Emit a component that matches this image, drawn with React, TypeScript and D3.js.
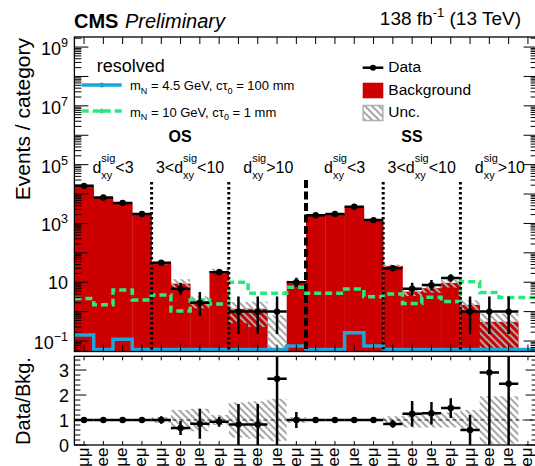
import React from "react";
import * as d3 from "d3";

// ---------------- data ----------------
const groups = ["OS", "SS"];
const regions = ["d<3", "3<d<10", "d>10"];
const channels = ["μμμ", "eee", "μμe", "eeμ"];
const binLabels: string[] = [];
for (let g = 0; g < 2; g++) for (let r = 0; r < 3; r++) for (const c of channels) binLabels.push(c);

const dataCounts = [19000, 7600, 5000, 2100, 46, 6, 2, 22, 1, 1, 1, 10, 1900, 2100, 3700, 1300, 30, 6, 8, 14, 1, 1, 1, 0];
const background = [19000, 7600, 5000, 2100, 46, 9, 2.3, 24, 1.25, 1.25, 0, 10, 1900, 2100, 3700, 1300, 36, 4.8, 6.3, 9.5, 1.7, 0.45, 0.45, 0];
const uncUp = [19600, 7850, 5150, 2170, 51, 12.6, 3.3, 28.8, 2.1, 2.2, 0.75, 11.2, 1960, 2170, 3800, 1340, 40, 6.2, 8.2, 12.4, 2.4, 0.87, 0.87, 0];
const uncDn = [18400, 7350, 4850, 2030, 41, 5.4, 1.3, 19.2, 0.4, 0.3, 0.01, 8.8, 1840, 2030, 3600, 1260, 32, 3.4, 4.4, 6.6, 1.0, 0.02, 0.02, 0];
const ratioVals = [1, 1, 1, 1, 1.0, 0.68, 0.85, 0.93, 0.82, 0.82, 2.65, 1.0, 1, 1, 1, 1, 0.84, 1.25, 1.27, 1.48, 0.6, 2.9, 2.45, NaN];
const ratioBand = [0.02, 0.02, 0.02, 0.03, 0.12, 0.4, 0.45, 0.2, 0.7, 0.75, 0.85, 0.12, 0.02, 0.02, 0.02, 0.03, 0.15, 0.3, 0.3, 0.3, 0.4, 0.95, 0.95, 0];
const sigBlue = [0.16, 0, 0.115, 0, 0, 0, 0, 0, 0, 0, 0, 0.068, 0, 0, 0.19, 0.068, 0, 0, 0, 0, 0, 0, 0, 0];
const sigGreen = [2.8, 1.7, 5.4, 2.5, 3.7, 1.05, 2.5, 1.8, 10, 4.2, 4.2, 6.7, 4.2, 4.2, 5.9, 3.2, 4.0, 1.9, 3.1, 2.2, 10.4, 4.5, 3.0, 3.0];
const yTickExps = [-1, 1, 3, 5, 7, 9];
const ratioTicks = [0, 1, 2, 3];

// ---------------- helpers ----------------
const FF = "'Liberation Sans', Arial, Helvetica, sans-serif";
const RED = "#cc0000";
const BLUE = "#1aa6dc";
const GREEN = "#2ee67f";

function poisCdf(n: number, mu: number) {
  let term = Math.exp(-mu);
  let sum = term;
  for (let k = 1; k <= n; k++) {
    term *= mu / k;
    sum += term;
  }
  return sum;
}
function garwood(n: number): [number, number] {
  if (n > 100) return [n - Math.sqrt(n), n + Math.sqrt(n)];
  const a = 0.158655;
  let lo = n, hi = n + 10 * Math.sqrt(n + 1) + 10;
  for (let i = 0; i < 80; i++) {
    const m = (lo + hi) / 2;
    if (poisCdf(n, m) > a) lo = m; else hi = m;
  }
  const U = (lo + hi) / 2;
  let L = 0;
  if (n > 0) {
    lo = 0; hi = n;
    for (let i = 0; i < 80; i++) {
      const m = (lo + hi) / 2;
      if (poisCdf(n - 1, m) > 1 - a) lo = m; else hi = m;
    }
    L = (lo + hi) / 2;
  }
  return [L, U];
}

export default function App() {
  const X0 = 74.4, X1 = 537.6;
  const MT = 37, MB = 351.5;
  const RT = 356.3, RB = 445;
  const nb = binLabels.length;
  const x = d3.scaleLinear().domain([0, nb]).range([X0, X1]);
  const y = d3.scaleLog().domain([0.044, 2.2e9]).range([MB, MT]);
  const yr = d3.scaleLinear().domain([0, 3.55]).range([RB, RT]);
  const bw = x(1) - x(0);
  const ymin = y.domain()[0];

  const stepPath = (vals: number[], floorY: number) => {
    let p = "";
    vals.forEach((v, i) => {
      const yy = v > 0 ? y(v) : floorY;
      p += (i === 0 ? `M${x(0)},${yy}` : `V${yy}`) + `H${x(i + 1)}`;
    });
    return p;
  };

  // ticks
  const mainTicks: JSX.Element[] = [];
  for (let e = -2; e <= 9; e++) {
    for (let m = 1; m <= 9; m++) {
      const v = m * Math.pow(10, e);
      if (v < ymin || v > y.domain()[1]) continue;
      const yy = y(v);
      const len = m === 1 ? 14 : 7;
      mainTicks.push(<line key={`l${e}${m}`} x1={X0} x2={X0 + len} y1={yy} y2={yy} stroke="#000" strokeWidth={1} />);
      mainTicks.push(<line key={`r${e}${m}`} x1={X1} x2={X1 - len} y1={yy} y2={yy} stroke="#000" strokeWidth={1} />);
    }
  }
  const ratioTickEls: JSX.Element[] = [];
  for (let k = 0; k <= 17; k++) {
    const v = k * 0.2;
    const yy = yr(v);
    const len = k % 5 === 0 ? 12 : 6;
    ratioTickEls.push(<line key={`rl${k}`} x1={X0} x2={X0 + len} y1={yy} y2={yy} stroke="#000" strokeWidth={1} />);
    ratioTickEls.push(<line key={`rr${k}`} x1={X1} x2={X1 - len} y1={yy} y2={yy} stroke="#000" strokeWidth={1} />);
  }

  const dLabel = (cx: number, pre: string, post: string, key: string) => {
    const fs = 16, fss = 11;
    const wPre = pre.length * 0.57 * fs;
    const wd = 0.556 * fs;
    const wsig = 1.278 * fss;
    const wPost = post.length * 0.57 * fs;
    const total = wPre + wd + wsig + wPost;
    const x0 = cx - total / 2;
    const by = 173;
    return (
      <g key={key} fontFamily={FF}>
        <text x={x0} y={by} fontSize={fs}>{pre + "d"}</text>
        <text x={x0 + wPre + wd} y={by - 11} fontSize={fss}>sig</text>
        <text x={x0 + wPre + wd} y={by + 6} fontSize={fss}>xy</text>
        <text x={x0 + wPre + wd + wsig} y={by} fontSize={fs}>{post}</text>
      </g>
    );
  };

  return (
    <svg width={535} height={466} style={{ position: "absolute", left: 0, top: 0, background: "#fff" }}>
      <defs>
        <pattern id="hatch" patternUnits="userSpaceOnUse" width={7} height={7}>
          <path d="M-1,-1 L8,8 M-4.5,2.5 L2.5,9.5 M2.5,-4.5 L9.5,2.5" stroke="#a8a8a8" strokeWidth={2} />
        </pattern>
        <clipPath id="mainClip"><rect x={X0} y={MT} width={X1 - X0} height={MB - MT} /></clipPath>
        <clipPath id="ratioClip"><rect x={X0} y={RT} width={X1 - X0} height={RB - RT} /></clipPath>
      </defs>
      <rect width={535} height={466} fill="#fff" />

      {/* main panel */}
      <g clipPath="url(#mainClip)">
        {background.map((v, i) => v > 0 ? (
          <rect key={`b${i}`} x={x(i)} y={y(v)} width={bw + 0.3} height={MB - y(v)} fill={RED} />
        ) : null)}
        {uncUp.map((v, i) => v > 0 ? (
          <rect key={`u${i}`} x={x(i)} y={y(v)} width={bw} height={Math.min(MB, y(Math.max(uncDn[i], ymin * 0.5))) - y(v)} fill="url(#hatch)" />
        ) : null)}
        <path d={stepPath(sigBlue, MB - 2)} fill="none" stroke={BLUE} strokeWidth={3.5} />
        <path d={stepPath(sigGreen, MB - 2)} fill="none" stroke={GREEN} strokeWidth={3.5} strokeDasharray="7,4" />
        {[4, 8, 16, 20].map(k => (
          <line key={`dv${k}`} x1={x(k)} x2={x(k)} y1={182} y2={MB} stroke="#000" strokeWidth={3} strokeDasharray="2.5,2.5" />
        ))}
        <line x1={x(12)} x2={x(12)} y1={180} y2={MB} stroke="#000" strokeWidth={4} strokeDasharray="8,3.5" />
        {dataCounts.map((n, i) => {
          if (n <= 0) return null;
          const [lo, hi] = garwood(n);
          const cx = x(i + 0.5);
          return (
            <g key={`d${i}`}>
              <line x1={cx} x2={cx} y1={y(hi)} y2={y(Math.max(lo, ymin * 0.5))} stroke="#000" strokeWidth={2.5} />
              <line x1={x(i)} x2={x(i + 1)} y1={y(n)} y2={y(n)} stroke="#000" strokeWidth={2.5} />
              <circle cx={cx} cy={y(n)} r={3.2} fill="#000" />
            </g>
          );
        })}
      </g>
      {mainTicks}
      {binLabels.map((_, i) => (
        <g key={`mt${i}`}>
          <line x1={x(i + 0.5)} x2={x(i + 0.5)} y1={MT} y2={MT + 7} stroke="#000" strokeWidth={1} />
          <line x1={x(i + 0.5)} x2={x(i + 0.5)} y1={MB} y2={MB - 7} stroke="#000" strokeWidth={1} />
        </g>
      ))}
      <rect x={X0} y={MT} width={X1 - X0} height={MB - MT} fill="none" stroke="#000" strokeWidth={1.3} />

      {/* y tick labels main */}
      {yTickExps.map(e => {
        const yy = y(Math.pow(10, e));
        if (e === 1) return <text key={`yl${e}`} x={68} y={yy + 6.5} fontSize={18} fontFamily={FF} textAnchor="end">10</text>;
        return (
          <text key={`yl${e}`} x={68} y={yy + 8} fontSize={18} fontFamily={FF} textAnchor="end">10<tspan dy={-8} fontSize={12.5}>{e < 0 ? "−" + Math.abs(e) : String(e)}</tspan></text>
        );
      })}
      <text transform="translate(30,38) rotate(-90)" textAnchor="end" fontSize={21} fontFamily={FF}>Events / category</text>

      {/* region labels */}
      <text x={180} y={141.7} fontSize={16} fontWeight="bold" fontFamily={FF} textAnchor="middle">{groups[0]}</text>
      <text x={412} y={141.7} fontSize={16} fontWeight="bold" fontFamily={FF} textAnchor="middle">{groups[1]}</text>
      {[0, 1].map(g => (
        <g key={`rg${g}`}>
          {dLabel(x(g * 12 + 2), "", "<3", `a${g}`)}
          {dLabel(x(g * 12 + 6), "3<", "<10", `b${g}`)}
          {dLabel(x(g * 12 + 10) + 1, "", ">10", `c${g}`)}
        </g>
      ))}

      {/* legend */}
      <text x={96.7} y={71.7} fontSize={18} fontFamily={FF}>resolved</text>
      <line x1={81.7} x2={121.7} y1={85} y2={85} stroke={BLUE} strokeWidth={3.5} />
      <circle cx={101.7} cy={85} r={2.5} fill={BLUE} />
      <text x={130} y={90} fontSize={13} fontFamily={FF}>m<tspan dy={3.5} fontSize={9}>N</tspan><tspan dy={-3.5}> = 4.5 GeV, cτ</tspan><tspan dy={3.5} fontSize={9}>0</tspan><tspan dy={-3.5}> = 100 mm</tspan></text>
      <line x1={81.7} x2={121.7} y1={111} y2={111} stroke={GREEN} strokeWidth={3.5} strokeDasharray="7,4" />
      <circle cx={101.7} cy={111} r={2.5} fill={GREEN} />
      <text x={130} y={116.7} fontSize={13} fontFamily={FF}>m<tspan dy={3.5} fontSize={9}>N</tspan><tspan dy={-3.5}> = 10 GeV, cτ</tspan><tspan dy={3.5} fontSize={9}>0</tspan><tspan dy={-3.5}> = 1 mm</tspan></text>

      <line x1={362.7} x2={383.3} y1={67.7} y2={67.7} stroke="#000" strokeWidth={2.5} />
      <circle cx={373} cy={67.7} r={3} fill="#000" />
      <text x={388.3} y={72.3} fontSize={15.5} fontFamily={FF}>Data</text>
      <rect x={362.7} y={82.7} width={20.6} height={15.6} fill={RED} />
      <text x={388.3} y={94.8} fontSize={15.5} fontFamily={FF}>Background</text>
      <rect x={363.2} y={105.5} width={19.6} height={15} fill="url(#hatch)" stroke="#b0b0b0" strokeWidth={1.5} />
      <text x={388.3} y={117.3} fontSize={15.5} fontFamily={FF}>Unc.</text>

      {/* header */}
      <text x={74} y={28} fontSize={20} fontWeight="bold" fontFamily={FF}>CMS</text>
      <text x={125} y={28} fontSize={20} fontStyle="italic" fontFamily={FF}>Preliminary</text>
      <text x={521} y={25} fontSize={19} fontFamily={FF} textAnchor="end">138 fb<tspan dy={-8} fontSize={13}>-1</tspan><tspan dy={8}> (13 TeV)</tspan></text>

      {/* ratio panel */}
      <g clipPath="url(#ratioClip)">
        {ratioBand.map((r, i) => r > 0 ? (
          <rect key={`rb${i}`} x={x(i)} y={yr(1 + r)} width={bw} height={yr(Math.max(1 - r, 0)) - yr(1 + r)} fill="url(#hatch)" />
        ) : null)}
        <line x1={X0} x2={X1} y1={yr(1)} y2={yr(1)} stroke="#000" strokeWidth={0.8} strokeDasharray="4,3" />
        {ratioVals.map((rv, i) => {
          if (!(rv > 0) || dataCounts[i] <= 0) return null;
          const err = rv / Math.sqrt(dataCounts[i]);
          const cx = x(i + 0.5);
          return (
            <g key={`rp${i}`}>
              <line x1={cx} x2={cx} y1={yr(rv + err)} y2={yr(Math.max(rv - err, 0))} stroke="#000" strokeWidth={2.5} />
              <line x1={x(i)} x2={x(i + 1)} y1={yr(rv)} y2={yr(rv)} stroke="#000" strokeWidth={2.5} />
              <circle cx={cx} cy={yr(rv)} r={3.2} fill="#000" />
            </g>
          );
        })}
      </g>
      {ratioTickEls}
      {binLabels.map((_, i) => (
        <g key={`rt${i}`}>
          <line x1={x(i + 0.5)} x2={x(i + 0.5)} y1={RT} y2={RT + 4} stroke="#000" strokeWidth={1} />
          <line x1={x(i + 0.5)} x2={x(i + 0.5)} y1={RB} y2={RB - 4} stroke="#000" strokeWidth={1} />
        </g>
      ))}
      <rect x={X0} y={RT} width={X1 - X0} height={RB - RT} fill="none" stroke="#000" strokeWidth={1.3} />
      {ratioTicks.map(t => (
        <text key={`rtl${t}`} x={69} y={yr(t) + 6.5} fontSize={18} fontFamily={FF} textAnchor="end">{t}</text>
      ))}
      <text transform="translate(30,401) rotate(-90)" textAnchor="middle" fontSize={20} fontFamily={FF}>Data/Bkg.</text>
      {binLabels.map((lab, i) => (
        <text key={`xl${i}`} transform={`translate(${x(i + 0.5) - 1},447.5) rotate(-90)`} textAnchor="end" dominantBaseline="central" fontSize={17} fontFamily={FF}>{lab}</text>
      ))}
    </svg>
  );
}
